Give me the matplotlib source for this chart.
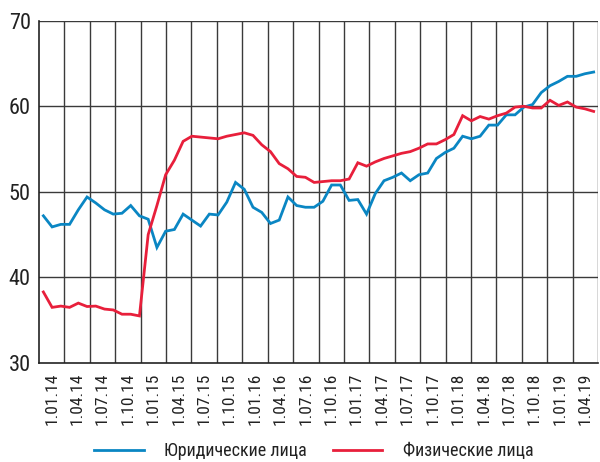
import matplotlib
matplotlib.use("Agg")
import matplotlib.pyplot as plt
from matplotlib import font_manager
import numpy as np

quarter_labels = ["1.01.14", "1.04.14", "1.07.14", "1.10.14", "1.01.15", "1.04.15", "1.07.15", "1.10.15",
                  "1.01.16", "1.04.16", "1.07.16", "1.10.16", "1.01.17", "1.04.17", "1.07.17", "1.10.17",
                  "1.01.18", "1.04.18", "1.07.18", "1.10.18", "1.01.19", "1.04.19"]

legal = [47.2, 45.9, 46.2, 46.2, 47.9, 49.4, 48.7, 47.9, 47.4, 47.5, 48.4, 47.2,
         46.8, 43.5, 45.4, 45.6, 47.4, 46.7, 46.0, 47.4, 47.3, 48.8, 51.1, 50.3,
         48.2, 47.6, 46.3, 46.7, 49.4, 48.4, 48.2, 48.2, 48.9, 50.8, 50.8, 49.0,
         49.1, 47.4, 49.8, 51.3, 51.7, 52.2, 51.3, 52.0, 52.2, 53.9, 54.6, 55.1,
         56.5, 56.2, 56.5, 57.8, 57.8, 59.0, 59.0, 59.9, 60.2, 61.6, 62.4, 62.9,
         63.5, 63.5, 63.8, 64.0]

individual = [38.3, 36.5, 36.65, 36.5, 37.0, 36.6, 36.65, 36.3, 36.2, 35.7, 35.7, 35.5,
              45.0, 48.4, 52.0, 53.7, 55.9, 56.5, 56.4, 56.3, 56.2, 56.5, 56.7, 56.9,
              56.6, 55.5, 54.7, 53.3, 52.7, 51.8, 51.7, 51.1, 51.2, 51.3, 51.3, 51.5,
              53.4, 53.0, 53.5, 53.9, 54.2, 54.5, 54.7, 55.1, 55.6, 55.6, 56.1, 56.7,
              58.9, 58.3, 58.8, 58.5, 58.9, 59.2, 59.9, 60.0, 59.8, 59.8, 60.7, 60.1,
              60.5, 59.9, 59.7, 59.4]

series_names = ["Юридические лица", "Физические лица"]
colors = ["#0a86c3", "#e81f3b"]

names = {f.name for f in font_manager.fontManager.ttflist}
fam = "DejaVu Sans"
for cand in ["Liberation Sans Narrow", "Roboto Condensed", "DejaVu Sans Condensed"]:
    if cand in names:
        fam = cand
        break
plt.rcParams['font.family'] = [fam, 'DejaVu Sans']
narrow = fam != "DejaVu Sans"

fig = plt.figure(figsize=(6, 4.62), dpi=100)
ax = fig.add_axes([0.065, 0.2143, 0.9317, 0.7409])

nq = len(quarter_labels)
n = len(legal)
x = (np.arange(n) + 0.5) / n * nq

ax.plot(x, legal, color=colors[0], lw=2.0, label=series_names[0], solid_joinstyle='miter')
ax.plot(x, individual, color=colors[1], lw=2.0, label=series_names[1], solid_joinstyle='miter')

ax.set_xlim(0, nq)
ax.set_ylim(30, 70)
ax.set_yticks([30, 40, 50, 60, 70])
ax.set_xticks(np.arange(nq) + 0.5)
ax.set_xticklabels(quarter_labels, rotation=90)

ax.grid(False)
for xv in range(1, nq + 1):
    ax.axvline(xv, color="#3a3a3a", lw=1.0, zorder=0)
for yv in [40, 50, 60, 70]:
    ax.axhline(yv, color="#3a3a3a", lw=1.0, zorder=0)

for s in ["top", "right"]:
    ax.spines[s].set_visible(False)
ax.spines["left"].set_color("#222222")
ax.spines["bottom"].set_color("#222222")
ax.spines["left"].set_linewidth(1.2)
ax.spines["bottom"].set_linewidth(1.2)

ysize = 16 if narrow else 13
xsize = 12.5 if narrow else 10
ax.tick_params(axis='y', length=0, pad=6, labelsize=ysize, colors="#222222")
ax.tick_params(axis='x', which='both', length=0, pad=7, labelsize=xsize, colors="#222222")

leg = fig.legend(loc='center', bbox_to_anchor=(0.523, 0.024), ncol=2, frameon=False,
                 fontsize=(13 if narrow else 11), handlelength=2.75, handletextpad=1.15,
                 columnspacing=1.4)
for t in leg.get_texts():
    t.set_color("#222222")

fig.savefig("out.png", dpi=100)
